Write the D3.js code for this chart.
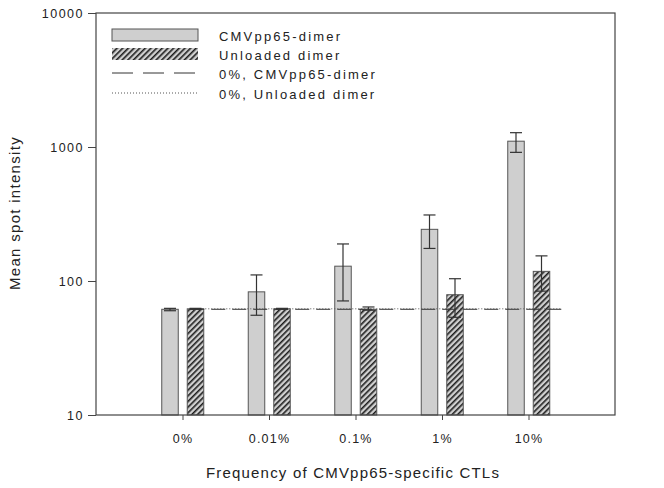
<!DOCTYPE html>
<html><head><meta charset="utf-8">
<script src="https://cdn.jsdelivr.net/npm/d3@7"></script>
<style>body{margin:0;background:#fff}svg{display:block;font-family:"Liberation Sans",Arial,sans-serif}</style>
</head><body><svg id="c" width="664" height="488"></svg>
<script>
const categories = ["0%", "0.01%", "0.1%", "1%", "10%"];
const cmvValues = [61.5, 83, 129, 243, 1105];
const cmvErrLow = [60, 55.5, 71, 175, 912];
const cmvErrHigh = [62.5, 111, 189, 311, 1279];
const unloadedValues = [62, 62, 61.5, 79, 118];
const unloadedErrLow = [61.5, 61.5, 60.5, 53.6, 84];
const unloadedErrHigh = [62.5, 62.5, 64, 104, 154];
const refLevels = [61.5, 62]; // 0% CMVpp65-dimer, 0% Unloaded dimer
const refSpan = [1.09, 5.39]; // in category units
const yTicks = [10, 100, 1000, 10000];
const legendLabels = ["CMVpp65-dimer", "Unloaded dimer", "0%, CMVpp65-dimer", "0%, Unloaded dimer"];

const svg = d3.select("#c");
const M = {l: 96, r: 615, t: 13, b: 415};
const x = d3.scaleLinear().domain([0, 6]).range([M.l, M.r]);
const y = d3.scaleLog().domain([10, 10000]).range([M.b, M.t]);
const barW = 16.5;
const offC = -12.5, offU = 13;

const defs = svg.append("defs");
const pat = defs.append("pattern").attr("id", "hatch").attr("patternUnits", "userSpaceOnUse")
  .attr("width", 4).attr("height", 4).attr("patternTransform", "rotate(45)");
pat.append("rect").attr("width", 4).attr("height", 4).attr("fill", "#d0d0d0");
pat.append("rect").attr("x", 0).attr("width", 1.6).attr("height", 4).attr("fill", "#1e1e1e");

const stroke = "#555";

// bars
const g = svg.append("g");
categories.forEach((c, i) => {
  const cx = x(i + 1);
  g.append("rect").attr("x", cx + offC - barW / 2).attr("y", y(cmvValues[i]))
    .attr("width", barW).attr("height", M.b - y(cmvValues[i]))
    .attr("fill", "#cfcfcf").attr("stroke", stroke).attr("stroke-width", 1);
  g.append("rect").attr("x", cx + offU - barW / 2).attr("y", y(unloadedValues[i]))
    .attr("width", barW).attr("height", M.b - y(unloadedValues[i]))
    .attr("fill", "url(#hatch)").attr("stroke", stroke).attr("stroke-width", 1);
});

// reference lines
svg.append("line").attr("x1", x(refSpan[0])).attr("x2", x(refSpan[1]))
  .attr("y1", y(refLevels[0])).attr("y2", y(refLevels[0]))
  .attr("stroke", "#333").attr("stroke-width", 1).attr("stroke-dasharray", "14,7");
svg.append("line").attr("x1", x(refSpan[0])).attr("x2", x(refSpan[1]))
  .attr("y1", y(refLevels[1])).attr("y2", y(refLevels[1]))
  .attr("stroke", "#555").attr("stroke-width", 1).attr("stroke-dasharray", "1,2");

// error bars
function errBar(cx, lo, hi) {
  const e = svg.append("g").attr("stroke", "#333").attr("stroke-width", 1.2);
  e.append("line").attr("x1", cx).attr("x2", cx).attr("y1", y(lo)).attr("y2", y(hi));
  e.append("line").attr("x1", cx - 6).attr("x2", cx + 6).attr("y1", y(lo)).attr("y2", y(lo));
  e.append("line").attr("x1", cx - 6).attr("x2", cx + 6).attr("y1", y(hi)).attr("y2", y(hi));
}
categories.forEach((c, i) => {
  errBar(x(i + 1) + offC, cmvErrLow[i], cmvErrHigh[i]);
  errBar(x(i + 1) + offU, unloadedErrLow[i], unloadedErrHigh[i]);
});

// frame
svg.append("rect").attr("x", M.l).attr("y", M.t).attr("width", M.r - M.l).attr("height", M.b - M.t)
  .attr("fill", "none").attr("stroke", "#444").attr("stroke-width", 1.2);

// axes
const ya = svg.append("g").attr("transform", `translate(${M.l},0)`)
  .call(d3.axisLeft(y).tickValues(yTicks).tickFormat(d3.format("d")).tickSize(8).tickPadding(4));
ya.select(".domain").remove();
ya.selectAll("line").attr("stroke", "#444");
ya.selectAll("text").attr("font-size", 12.5).attr("fill", "#222").attr("letter-spacing", 1.5)
  .attr("font-family", "Liberation Sans, Arial, sans-serif");

const xa = svg.append("g").attr("transform", `translate(0,${M.b})`)
  .call(d3.axisBottom(x).tickValues([1, 2, 3, 4, 5]).tickFormat((d) => categories[d - 1]).tickSize(5).tickPadding(14));
xa.select(".domain").remove();
xa.selectAll("line").attr("stroke", "#444");
xa.selectAll("text").attr("font-size", 12.5).attr("fill", "#222").attr("letter-spacing", 1.2)
  .attr("font-family", "Liberation Sans, Arial, sans-serif");

// axis titles
svg.append("text").attr("x", 353).attr("y", 478).attr("text-anchor", "middle")
  .attr("font-size", 15).attr("letter-spacing", 1.2).attr("fill", "#222").text("Frequency of CMVpp65-specific CTLs");
svg.append("text").attr("transform", "translate(20,213) rotate(-90)").attr("text-anchor", "middle")
  .attr("font-size", 15).attr("letter-spacing", 1.3).attr("fill", "#222").text("Mean spot intensity");

// legend
const L = svg.append("g");
const lx = 112, lw = 86, tx = 219;
const rows = [35, 54, 73, 93];
L.append("rect").attr("x", lx).attr("y", rows[0] - 6).attr("width", lw).attr("height", 12)
  .attr("fill", "#cfcfcf").attr("stroke", stroke);
L.append("rect").attr("x", lx).attr("y", rows[1] - 6).attr("width", lw).attr("height", 12)
  .attr("fill", "url(#hatch)").attr("stroke", "none");
L.append("line").attr("x1", lx).attr("x2", lx + lw).attr("y1", rows[2]).attr("y2", rows[2])
  .attr("stroke", "#333").attr("stroke-dasharray", "21,10");
L.append("line").attr("x1", lx).attr("x2", lx + lw).attr("y1", rows[3]).attr("y2", rows[3])
  .attr("stroke", "#555").attr("stroke-dasharray", "1,2");
legendLabels.forEach((t, i) => {
  L.append("text").attr("x", tx).attr("y", rows[i] + 6).attr("font-size", 13).attr("letter-spacing", 2.2)
    .attr("fill", "#222").text(t);
});
</script></body></html>
